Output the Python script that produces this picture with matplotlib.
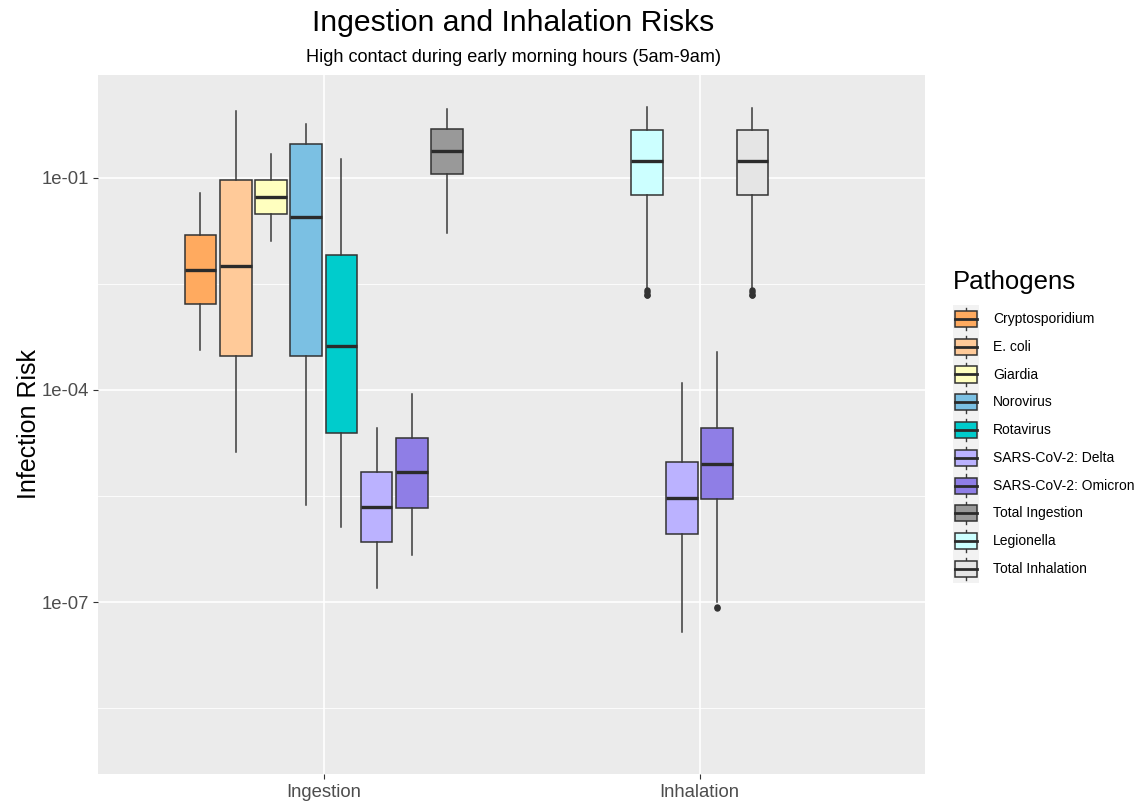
import numpy as np
import matplotlib
matplotlib.use('Agg')
import matplotlib.pyplot as plt
from matplotlib.patches import Rectangle, Patch
from matplotlib.lines import Line2D
from matplotlib.legend_handler import HandlerBase
from matplotlib.ticker import FixedLocator, FuncFormatter

plt.rcParams['font.family'] = ['Liberation Sans', 'DejaVu Sans']

# summary statistics per box (route, pathogen)
routes = ['Ingestion', 'Inhalation']
pathogens = ['Cryptosporidium', 'E. coli', 'Giardia', 'Norovirus', 'Rotavirus',
             'SARS-CoV-2: Delta', 'SARS-CoV-2: Omicron', 'Total Ingestion',
             'Legionella', 'Total Inhalation']
fill_colors = ['#FFAA5F', '#FFCA99', '#FFFFBF', '#7BC0E3', '#00CCCC',
               '#BBB2FF', '#8F7EE6', '#999999', '#CCFFFF', '#E5E5E5']

box_route = ['Ingestion'] * 8 + ['Inhalation'] * 4
box_pathogen = ['Cryptosporidium', 'E. coli', 'Giardia', 'Norovirus', 'Rotavirus',
                'SARS-CoV-2: Delta', 'SARS-CoV-2: Omicron', 'Total Ingestion',
                'Legionella', 'SARS-CoV-2: Delta', 'SARS-CoV-2: Omicron',
                'Total Inhalation']
whislo = [3.68e-4, 1.33e-5, 1.30e-2, 2.36e-6, 1.16e-6, 1.56e-7, 4.62e-7, 1.65e-2,
          2.75e-3, 3.72e-8, 1.01e-7, 2.75e-3]
q1 = [1.63e-3, 3.06e-4, 3.13e-2, 3.06e-4, 2.49e-5, 7.00e-7, 2.14e-6, 1.14e-1,
      5.74e-2, 9.18e-7, 2.90e-6, 5.78e-2]
med = [4.99e-3, 5.74e-3, 5.45e-2, 2.81e-2, 4.24e-4, 2.21e-6, 6.84e-6, 2.41e-1,
       1.76e-1, 2.99e-6, 8.97e-6, 1.76e-1]
q3 = [1.56e-2, 9.46e-2, 9.46e-2, 3.03e-1, 8.22e-3, 6.98e-6, 2.09e-5, 4.89e-1,
      4.78e-1, 9.48e-6, 2.90e-5, 4.78e-1]
whishi = [6.19e-2, 8.95e-1, 2.16e-1, 5.75e-1, 1.87e-1, 2.93e-5, 8.69e-5, 9.46e-1,
          1.00, 1.27e-4, 3.42e-4, 0.99]
outliers = {
    ('Inhalation', 'Legionella'): [2.57e-3, 2.40e-3, 2.24e-3, 2.19e-3],
    ('Inhalation', 'SARS-CoV-2: Omicron'): [8.59e-8, 8.30e-8],
    ('Inhalation', 'Total Inhalation'): [2.57e-3, 2.40e-3, 2.24e-3, 2.19e-3],
}

fig = plt.figure(figsize=(11.43, 8.02), dpi=100)
ax = fig.add_axes([0.0860, 0.0349, 0.7233, 0.8716])
ax.set_facecolor('#EBEBEB')
for s in ax.spines.values():
    s.set_visible(False)

# dodge: fixed slot width per box, centred on each route
slot = 0.75 / 8
stats, positions, faces = [], [], []
for r_i, route in enumerate(routes):
    idx = [i for i, r in enumerate(box_route) if r == route]
    n = len(idx)
    for k, i in enumerate(idx):
        positions.append(r_i + 1 + (k - (n - 1) / 2) * slot)
        stats.append(dict(med=med[i], q1=q1[i], q3=q3[i], whislo=whislo[i],
                          whishi=whishi[i],
                          fliers=outliers.get((route, box_pathogen[i]), [])))
        faces.append(fill_colors[pathogens.index(box_pathogen[i])])

edge = '#333333'
art = ax.bxp(stats, positions=positions, widths=slot * 0.9, patch_artist=True,
             showcaps=False, manage_ticks=False,
             boxprops=dict(edgecolor=edge, linewidth=1.1),
             whiskerprops=dict(color='#3a3a3a', linewidth=1.1),
             medianprops=dict(color='#2b2b2b', linewidth=2.4),
             flierprops=dict(marker='o', markerfacecolor=edge, markeredgecolor=edge,
                             markersize=3.6, linestyle='none'))
for patch, c in zip(art['boxes'], faces):
    patch.set_facecolor(c)
for a in art['boxes'] + art['whiskers'] + art['medians'] + art['fliers']:
    a.set_zorder(3)

ax.set_yscale('log')
ax.set_ylim(10 ** -9.434, 10 ** 0.4575)
ax.set_xlim(0.4, 2.6)

ax.yaxis.set_major_locator(FixedLocator([1e-7, 1e-4, 1e-1]))
ax.yaxis.set_minor_locator(FixedLocator([10 ** -8.5, 10 ** -5.5, 10 ** -2.5]))
ax.yaxis.set_major_formatter(FuncFormatter(lambda v, p: f'{v:.0e}'))
ax.yaxis.set_minor_formatter(FuncFormatter(lambda v, p: ''))
ax.set_xticks([1, 2])
ax.set_xticklabels(routes)

ax.grid(True, which='major', color='white', linewidth=1.2, zorder=0)
ax.grid(True, which='minor', axis='y', color='white', linewidth=0.6, zorder=0)
ax.set_axisbelow(True)
ax.tick_params(which='major', colors='#333333', labelcolor='#4D4D4D',
               labelsize=13.3, length=3.5, width=0.8)
ax.tick_params(which='minor', length=0)

ax.set_ylabel('Infection Risk', fontsize=18, labelpad=0.5)

fig.text(0.449, 1 - 31 / 802, 'Ingestion and Inhalation Risks', ha='center',
         va='baseline', fontsize=21.7)
fig.text(0.449, 1 - 61.7 / 802, 'High contact during early morning hours (5am-9am)',
         ha='center', va='baseline', fontsize=13.1)


class BoxKey(HandlerBase):
    # ggplot-like key: grey tile, whisker, box and median
    def create_artists(self, legend, orig_handle, xdescent, ydescent, width,
                       height, fontsize, trans):
        x0, y0 = -xdescent, -ydescent
        cx = x0 + width / 2
        bg = Rectangle((x0, y0), width, height, facecolor='#F2F2F2',
                       edgecolor='none', transform=trans)
        wh = Line2D([cx, cx], [y0 + height * 0.1, y0 + height * 0.9],
                    color='#3a3a3a', linewidth=1.0, transform=trans)
        bx = Rectangle((x0 + width * 0.1, y0 + height * 0.21), width * 0.8,
                       height * 0.58, facecolor=orig_handle.get_facecolor(),
                       edgecolor=edge, linewidth=1.1, transform=trans)
        md = Line2D([x0 + width * 0.1, x0 + width * 0.9],
                    [y0 + height / 2, y0 + height / 2], color='#2b2b2b',
                    linewidth=2.0, transform=trans)
        return [bg, wh, bx, md]


fig.text(953 / 1143, 1 - 289.3 / 802, 'Pathogens', ha='left', va='baseline',
         fontsize=18.5)
handles = [Patch(facecolor=c) for c in fill_colors]
leg = fig.legend(handles, pathogens, handler_map={Patch: BoxKey()},
                 loc='upper left', bbox_to_anchor=(952.7 / 1143, 1 - 305 / 802),
                 fontsize=10.0, frameon=False, handlelength=1.92,
                 handleheight=2.7, labelspacing=0.0, handletextpad=0.99,
                 borderpad=0.0, borderaxespad=0.0)

fig.savefig('out.png', dpi=100)
